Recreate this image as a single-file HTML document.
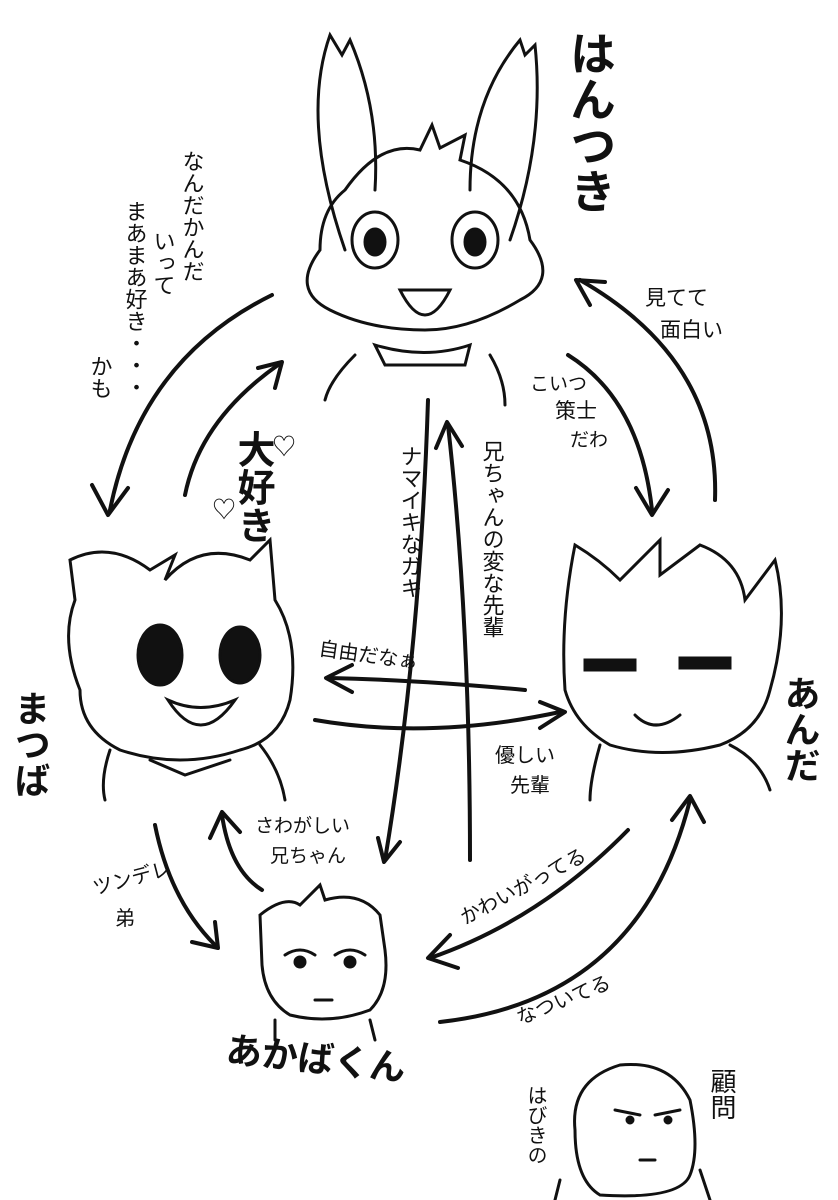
<!DOCTYPE html>
<html><head><meta charset="utf-8">
<style>
html,body{margin:0;padding:0;background:#fff;}
svg{display:block;}
text{font-family:"Liberation Sans","Noto Sans CJK JP",sans-serif;fill:#111;}
.v{writing-mode:vertical-rl;}
</style></head>
<body>
<svg width="838" height="1200" viewBox="0 0 838 1200" xmlns="http://www.w3.org/2000/svg">
<g fill="none" stroke="#111" stroke-width="4" stroke-linecap="round" stroke-linejoin="round">
<path d="M272 295 Q140 360 110 510"/><path d="M92 485 L108 515 L128 488"/>
<path d="M185 495 Q200 420 278 365"/><path d="M258 368 L282 362 L275 388"/>
<path d="M568 355 Q640 400 652 510"/><path d="M636 488 L652 515 L668 490"/>
<path d="M715 500 Q720 360 580 280"/><path d="M590 305 L576 280 L605 282"/>
<path d="M525 690 Q420 680 330 678"/><path d="M352 665 L326 678 L352 692"/>
<path d="M315 720 Q430 740 560 712"/><path d="M540 702 L565 712 L540 728"/>
<path d="M428 400 Q420 650 385 860"/><path d="M378 838 L384 862 L400 842"/>
<path d="M470 860 Q470 620 448 425"/><path d="M436 448 L447 422 L462 446"/>
<path d="M155 825 Q170 900 215 945"/><path d="M192 942 L218 948 L215 922"/>
<path d="M262 890 Q230 870 222 815"/><path d="M210 838 L222 812 L240 832"/>
<path d="M628 830 Q540 920 430 958"/><path d="M450 935 L428 958 L458 968"/>
<path d="M440 1022 Q640 1000 690 800"/><path d="M672 820 L690 796 L704 822"/>
</g>
<g fill="none" stroke="#111" stroke-width="3" stroke-linecap="round">
<path d="M345 250 Q300 120 330 35 L342 55 L350 40 Q380 110 375 190"/>
<path d="M470 190 Q470 100 520 40 L525 55 L535 45 Q545 140 510 240"/>
<path d="M345 190 Q380 140 420 150 L432 125 L440 148 L465 135 L460 160 Q520 180 530 240 Q560 280 520 300 Q470 330 425 330 Q370 330 330 310 Q290 290 320 250 Q320 210 345 190Z"/>
<ellipse cx="375" cy="240" rx="23" ry="28"/><ellipse cx="375" cy="242" rx="10" ry="13" fill="#111"/>
<ellipse cx="475" cy="240" rx="23" ry="28"/><ellipse cx="475" cy="242" rx="10" ry="13" fill="#111"/>
<path d="M400 290 Q425 340 450 290 Z"/>
<path d="M375 345 Q425 360 470 345 L465 365 L385 365 Z"/>
<path d="M355 355 Q330 380 325 400"/><path d="M490 355 Q505 380 505 405"/>
<path d="M70 560 Q110 540 150 570 L175 555 L165 580 Q200 540 250 560 L270 540 L275 600 Q300 640 290 700 Q280 740 240 750 Q180 770 120 750 Q80 730 80 690 Q60 640 75 600 L70 560Z"/>
<ellipse cx="160" cy="655" rx="22" ry="30" fill="#111"/><ellipse cx="240" cy="655" rx="20" ry="28" fill="#111"/>
<path d="M168 700 Q200 750 235 700 Q200 715 168 700Z"/>
<path d="M110 750 Q100 780 105 800"/><path d="M260 745 Q280 770 285 800"/>
<path d="M150 760 L185 775 L230 760"/>
<path d="M575 545 Q600 560 620 580 L660 540 L660 575 L700 545 Q740 560 745 600 L775 560 Q790 620 770 690 Q760 730 720 745 Q660 760 610 745 Q575 725 565 690 Q560 620 575 545Z"/>
<rect x="585" y="660" width="50" height="10" fill="#111"/><rect x="680" y="658" width="50" height="10" fill="#111"/>
<path d="M635 715 Q655 735 680 715"/>
<path d="M600 745 Q590 780 590 800"/><path d="M730 745 Q760 760 770 790"/>
<path d="M260 915 Q285 895 300 905 L320 885 L325 900 Q360 890 380 915 L385 950 Q390 990 370 1010 Q330 1025 290 1015 Q265 1000 262 965 Z"/>
<path d="M285 955 Q300 945 315 955"/><circle cx="300" cy="962" r="5" fill="#111"/>
<path d="M335 955 Q350 945 365 955"/><circle cx="350" cy="962" r="5" fill="#111"/>
<path d="M315 1000 L332 1000"/>
<path d="M275 1020 L275 1040 M370 1020 L375 1040"/>
<path d="M575 1130 Q570 1080 620 1065 Q670 1060 690 1100 Q700 1150 690 1175 Q680 1200 600 1195 Q575 1180 575 1130Z"/>
<path d="M615 1110 L640 1115 M655 1115 L680 1110"/><circle cx="630" cy="1120" r="3" fill="#111"/><circle cx="668" cy="1120" r="3" fill="#111"/>
<path d="M640 1160 L655 1160"/>
<path d="M560 1180 L555 1200 M700 1170 L710 1200"/>
</g>
<text class="v" x="590" y="30" font-size="46" font-weight="bold">はんつき</text>
<text class="v" x="192" y="150" font-size="22">なんだかんだ</text>
<text class="v" x="163" y="230" font-size="22">いって</text>
<text class="v" x="135" y="200" font-size="22">まあまあ好き・・・</text>
<text class="v" x="100" y="355" font-size="22">かも</text>
<text class="v" x="252" y="430" font-size="38" font-weight="bold">大好き</text>
<text x="272" y="455" font-size="24">♡</text><text x="212" y="518" font-size="24">♡</text>
<text class="v" x="410" y="445" font-size="22">ナマイキなガキ</text>
<text class="v" x="492" y="440" font-size="22">兄ちゃんの変な先輩</text>
<text x="530" y="390" font-size="19">こいつ</text>
<text x="555" y="418" font-size="21">策士</text>
<text x="570" y="446" font-size="19">だわ</text>
<text x="645" y="305" font-size="21">見てて</text>
<text x="660" y="337" font-size="21">面白い</text>
<text x="318" y="655" font-size="20" transform="rotate(8 318 655)">自由だなぁ</text>
<text class="v" x="30" y="690" font-size="36" font-weight="bold">まつば</text>
<text class="v" x="800" y="675" font-size="36" font-weight="bold">あんだ</text>
<text x="495" y="762" font-size="20">優しい</text>
<text x="510" y="792" font-size="20">先輩</text>
<text x="255" y="832" font-size="19">さわがしい</text>
<text x="270" y="862" font-size="19">兄ちゃん</text>
<text x="95" y="895" font-size="20" transform="rotate(-15 95 895)">ツンデレ</text>
<text x="115" y="925" font-size="20">弟</text>
<text x="465" y="925" font-size="20" transform="rotate(-28 465 925)">かわいがってる</text>
<text x="520" y="1025" font-size="20" transform="rotate(-22 520 1025)">なついてる</text>
<text x="225" y="1062" font-size="36" font-weight="bold" transform="rotate(6 225 1062)">あかばくん</text>
<text class="v" x="722" y="1068" font-size="26">顧問</text>
<text class="v" x="535" y="1085" font-size="20">はびきの</text>
</svg>
</body></html>
